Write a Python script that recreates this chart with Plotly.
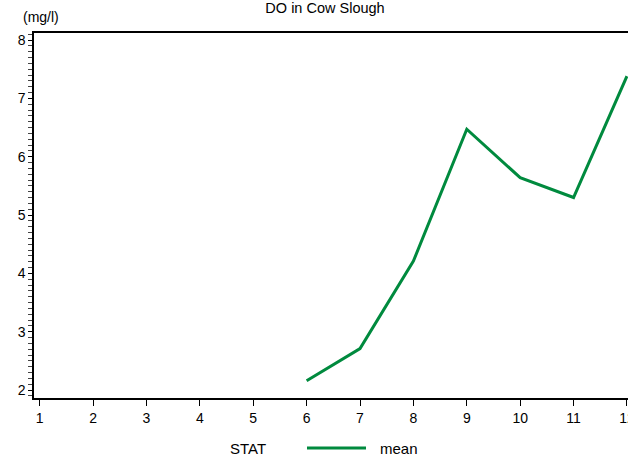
import plotly.graph_objects as go

months = [6, 7, 8, 9, 10, 11, 12]
do_mean = [2.16, 2.71, 4.21, 6.47, 5.64, 5.30, 7.38]
x_ticks = list(range(1, 13))
y_ticks = [2, 3, 4, 5, 6, 7, 8]
series_name = "mean"
legend_title = "STAT"
title_text = "DO in Cow Slough"
unit_text = "(mg/l)"

GREEN = "#008a3e"
FONT = "Liberation Sans, Arial, sans-serif"

L, R, T, B = 34, 0, 33, 61
W, H = 628, 459
pw = W - L - R
ph = H - T - B

def px_x(p):
    return (p - L) / pw

def px_y(p):
    return (H - B - p) / ph

fig = go.Figure()
fig.add_trace(go.Scatter(x=months, y=do_mean, mode="lines", name=series_name,
                         line=dict(color=GREEN, width=3), showlegend=False))

fig.update_layout(
    width=W, height=H,
    margin=dict(l=L, r=R, t=T, b=B, autoexpand=False),
    paper_bgcolor="white", plot_bgcolor="white",
    font=dict(family=FONT, size=14, color="black"),
    title=dict(text=title_text, x=325 / W, xanchor="center", y=1 - 8 / H, yanchor="middle",
               yref="container", font=dict(size=14.5, color="black"), automargin=False),
    xaxis=dict(range=[0.893, 12.02], tickvals=x_ticks, ticktext=[str(v) for v in x_ticks],
               showline=True, linecolor="black", linewidth=1.5, mirror=True,
               ticks="outside", ticklen=6, tickcolor="black", tickwidth=1,
               ticklabeloverflow="allow", automargin=False,
               showgrid=False, zeroline=False, tickfont=dict(size=14)),
    yaxis=dict(range=[1.863, 8.12], tickvals=y_ticks, ticktext=[str(v) for v in y_ticks],
               showline=True, linecolor="black", linewidth=1.5, automargin=False,
               ticks="outside", ticklen=4, tickcolor="black", tickwidth=1,
               minor=dict(dtick=0.1, tick0=0, ticks="outside", ticklen=4, tickcolor="#444", showgrid=False),
               showgrid=False, zeroline=False, tickfont=dict(size=14)),
)

fig.add_annotation(text=unit_text, xref="paper", yref="paper", x=px_x(41), y=px_y(17),
                   xanchor="center", yanchor="middle", showarrow=False, font=dict(size=14))

# legend
fig.add_annotation(text=legend_title, xref="paper", yref="paper", x=px_x(248), y=px_y(448),
                   xanchor="center", yanchor="middle", showarrow=False, font=dict(size=15))
fig.add_shape(type="line", xref="paper", yref="paper", x0=px_x(307), x1=px_x(366),
              y0=px_y(448), y1=px_y(448), line=dict(color=GREEN, width=3))
fig.add_annotation(text=series_name, xref="paper", yref="paper", x=px_x(378), y=px_y(448),
                   xanchor="left", yanchor="middle", showarrow=False, font=dict(size=15))

fig.write_html("out.html", config={"displayModeBar": False},
               post_script="document.body.style.margin='0';document.body.style.overflow='hidden';")
